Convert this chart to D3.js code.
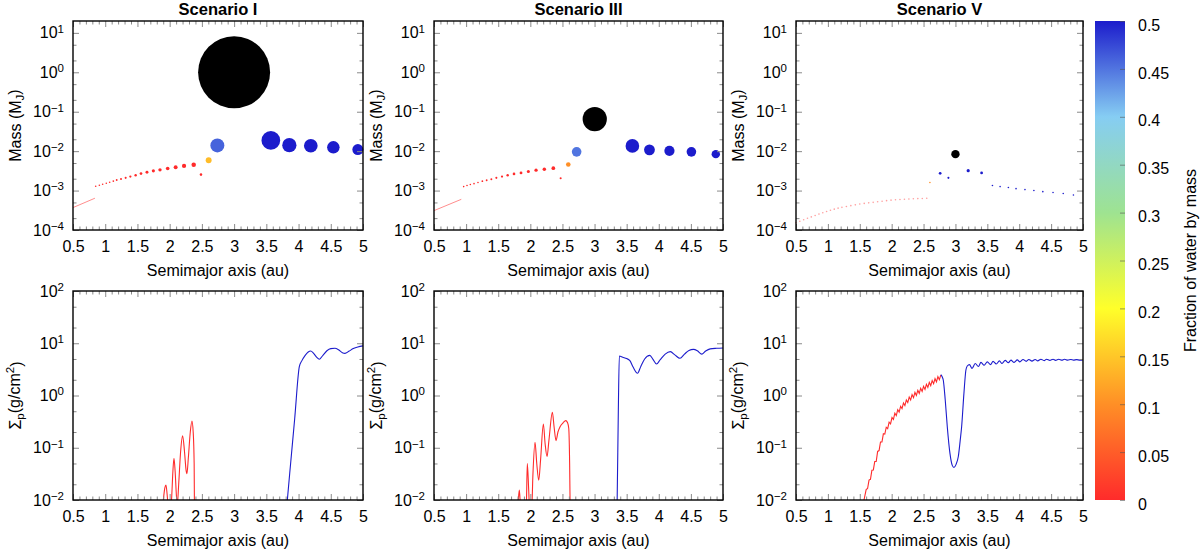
<!DOCTYPE html>
<html>
<head>
<meta charset="utf-8">
<script src="https://cdn.jsdelivr.net/npm/d3@7"></script>
<style>
  body { margin: 0; background: #fff; }
  svg text { font-family: "Liberation Sans", Arial, Helvetica, sans-serif; fill: #000; }
</style>
</head>
<body>
<svg id="chart" width="1200" height="553"></svg>
<script>
// ---------------- data ----------------
const scenarioNames = ["Scenario I", "Scenario III", "Scenario V"];
const xTickValues = [0.5, 1, 1.5, 2, 2.5, 3, 3.5, 4, 4.5, 5];
const massTickValues = [1e-4, 1e-3, 1e-2, 1e-1, 1, 10];
const sigmaTickValues = [1e-2, 1e-1, 1, 10, 100];
const waterTickValues = [0, 0.05, 0.1, 0.15, 0.2, 0.25, 0.3, 0.35, 0.4, 0.45, 0.5];

// palette of the colour bar (water mass fraction -> colour)
const paletteStops = [0, 0.1, 0.2, 0.3, 0.4, 0.5];
const paletteColors = ["#ff2b2b", "#ff8f26", "#ffff2a", "#9ee391", "#86cdf3", "#1c1ccc"];

// Scenario I : semimajor axis (au), mass (M_J), water fraction (null = giant core)
const s1Axis = [0.852, 0.909, 0.960, 1.017, 1.069, 1.126, 1.178, 1.245, 1.317, 1.390, 1.472, 1.555, 1.648, 1.747,
  1.850, 1.969, 2.093, 2.223, 2.373, 2.486, 2.605, 2.740, 3.000, 3.570, 3.857, 4.190, 4.540, 4.920];
const s1Mass = [1.29e-3, 1.36e-3, 1.45e-3, 1.54e-3, 1.63e-3, 1.74e-3, 1.85e-3, 1.96e-3, 2.10e-3, 2.27e-3, 2.45e-3,
  2.70e-3, 2.93e-3, 3.16e-3, 3.35e-3, 3.63e-3, 3.90e-3, 4.23e-3, 4.50e-3, 2.54e-3, 5.9e-3, 1.4e-2, 1.0,
  1.87e-2, 1.42e-2, 1.37e-2, 1.25e-2, 1.10e-2];
const s1Water = [0, 0, 0, 0, 0, 0, 0, 0, 0, 0, 0, 0, 0, 0, 0, 0, 0, 0, 0, 0, 0.14, 0.46, null, 0.5, 0.5, 0.5, 0.5, 0.5];
const s1Trail = [[0.5, 3.7e-4], [0.84, 6.4e-4]];

// Scenario III
const s3Axis = [0.962, 1.014, 1.066, 1.123, 1.185, 1.253, 1.320, 1.393, 1.471, 1.559, 1.647, 1.746, 1.855, 1.969,
  2.089, 2.218, 2.358, 2.472, 2.591, 2.721, 3.003, 3.589, 3.855, 4.166, 4.508, 4.888];
const s3Mass = [1.26e-3, 1.34e-3, 1.42e-3, 1.50e-3, 1.60e-3, 1.73e-3, 1.83e-3, 1.94e-3, 2.10e-3, 2.26e-3, 2.45e-3,
  2.65e-3, 2.81e-3, 3.04e-3, 3.29e-3, 3.48e-3, 3.69e-3, 2.06e-3, 4.58e-3, 9.6e-3, 6.5e-2,
  1.36e-2, 1.08e-2, 1.02e-2, 9.6e-3, 8.4e-3];
const s3Water = [0, 0, 0, 0, 0, 0, 0, 0, 0, 0, 0, 0, 0, 0, 0, 0, 0, 0, 0.1, 0.45, null, 0.5, 0.5, 0.5, 0.5, 0.5];
const s3Trail = [[0.5, 3.1e-4], [0.925, 6.0e-4]];

// Scenario V
const s5Axis = [0.50, 0.56, 0.62, 0.68, 0.74, 0.80, 0.86, 0.92, 0.98, 1.04, 1.10, 1.16, 1.22, 1.29, 1.36, 1.43,
  1.50, 1.57, 1.64, 1.71, 1.78, 1.85, 1.92, 1.99, 2.06, 2.13, 2.20, 2.27, 2.34, 2.41, 2.48, 2.55,
  2.60, 2.76, 2.89, 3.00, 3.20, 3.41, 3.58, 3.70, 3.83, 3.95, 4.09, 4.23, 4.37, 4.53, 4.69, 4.85];
const s5Mass = [1.53e-4, 1.67e-4, 1.82e-4, 1.98e-4, 2.15e-4, 2.33e-4, 2.53e-4, 2.75e-4, 2.95e-4, 3.17e-4, 3.38e-4,
  3.58e-4, 3.75e-4, 3.94e-4, 4.14e-4, 4.35e-4, 4.55e-4, 4.73e-4, 4.88e-4, 5.03e-4, 5.19e-4, 5.37e-4, 5.55e-4,
  5.71e-4, 5.83e-4, 5.94e-4, 6.03e-4, 6.11e-4, 6.19e-4, 6.26e-4, 6.31e-4, 6.36e-4,
  1.6e-3, 2.75e-3, 2.1e-3, 8.4e-3, 3.2e-3, 2.8e-3, 1.34e-3, 1.26e-3, 1.2e-3, 1.12e-3, 1.06e-3, 1.0e-3,
  9.4e-4, 8.9e-4, 8.4e-4, 7.7e-4];
const s5Water = [0, 0, 0, 0, 0, 0, 0, 0, 0, 0, 0, 0, 0, 0, 0, 0, 0, 0, 0, 0, 0, 0, 0, 0, 0, 0, 0, 0, 0, 0, 0, 0,
  0.1, 0.5, 0.5, null, 0.5, 0.5, 0.5, 0.5, 0.5, 0.5, 0.5, 0.5, 0.5, 0.5, 0.5, 0.5];

// planetesimal surface density, [a (au), Sigma_p (g/cm^2)]
const s1SigmaDry = [[1.885, 0.006], [1.902, 0.01], [1.925, 0.017], [1.943, 0.0194], [1.96, 0.013], [1.979, 0.007],
  [2.005, 0.005], [2.031, 0.011], [2.05, 0.035], [2.067, 0.063], [2.085, 0.035], [2.105, 0.012], [2.118, 0.008],
  [2.14, 0.02], [2.17, 0.085], [2.201, 0.17], [2.23, 0.085], [2.255, 0.037], [2.268, 0.032], [2.29, 0.065],
  [2.32, 0.2], [2.346, 0.325], [2.365, 0.2], [2.38, 0.05], [2.386, 0.004]];
const s1SigmaWet = [[3.80, 0.004], [3.826, 0.01], [3.88, 0.055], [3.94, 0.36], [4.012, 3.56], [4.05, 4.6],
  [4.10, 5.8], [4.15, 6.8], [4.188, 7.1], [4.23, 6.5], [4.28, 5.4], [4.322, 4.93], [4.37, 5.7], [4.44, 7.2],
  [4.50, 7.9], [4.565, 8.0], [4.62, 7.5], [4.68, 6.6], [4.72, 6.4], [4.78, 7.0], [4.85, 7.9], [4.92, 8.5], [5.0, 8.9]];

const s3SigmaDry = [[1.80, 0.006], [1.813, 0.01], [1.829, 0.0155], [1.845, 0.008], [1.86, 0.005], [1.93, 0.005],
  [1.94, 0.01], [1.953, 0.05], [1.975, 0.015], [1.99, 0.006], [2.02, 0.006], [2.04, 0.03], [2.073, 0.127],
  [2.10, 0.05], [2.131, 0.024], [2.16, 0.06], [2.203, 0.285], [2.23, 0.12], [2.26, 0.068], [2.29, 0.14],
  [2.343, 0.476], [2.37, 0.25], [2.40, 0.137], [2.43, 0.2], [2.463, 0.253], [2.51, 0.3], [2.551, 0.33],
  [2.58, 0.3], [2.598, 0.236], [2.612, 0.05], [2.622, 0.004]];
const s3SigmaWet = [[3.345, 0.004], [3.352, 0.01], [3.37, 0.5], [3.386, 5.7], [3.438, 5.4], [3.50, 5.1],
  [3.55, 4.64], [3.60, 3.5], [3.669, 2.66], [3.72, 3.6], [3.78, 5.0], [3.86, 5.87], [3.91, 4.9], [3.964, 4.0],
  [4.02, 4.8], [4.10, 6.2], [4.18, 6.9], [4.25, 6.0], [4.33, 5.15], [4.40, 6.2], [4.47, 7.3], [4.54, 7.65],
  [4.60, 7.2], [4.67, 6.2], [4.73, 7.1], [4.80, 7.8], [4.90, 8.0], [5.0, 8.1]];

const s5SigmaDry = [[1.566, 0.010], [1.600, 0.0158], [1.6225, 0.0166], [1.645, 0.0241], [1.6675, 0.0249],
  [1.690, 0.0371], [1.7125, 0.0376], [1.735, 0.0545], [1.7575, 0.0546], [1.780, 0.085], [1.8025, 0.0883],
  [1.825, 0.129], [1.8475, 0.129], [1.870, 0.185], [1.8925, 0.182], [1.915, 0.247], [1.9375, 0.232],
  [1.960, 0.308], [1.9825, 0.287], [2.005, 0.379], [2.0275, 0.349], [2.050, 0.458], [2.0725, 0.414],
  [2.095, 0.534], [2.1175, 0.482], [2.140, 0.621], [2.1625, 0.560], [2.185, 0.719], [2.2075, 0.642],
  [2.230, 0.823], [2.2525, 0.733], [2.275, 0.932], [2.2975, 0.824], [2.320, 1.04], [2.3425, 0.91],
  [2.365, 1.145], [2.3875, 1.0], [2.410, 1.26], [2.4325, 1.10], [2.455, 1.375], [2.4775, 1.20], [2.500, 1.50],
  [2.5225, 1.31], [2.545, 1.64], [2.5675, 1.43], [2.590, 1.78], [2.6125, 1.55], [2.635, 1.93], [2.6575, 1.68],
  [2.680, 2.10], [2.7025, 1.83], [2.725, 2.30], [2.7475, 2.01], [2.770, 2.45]];
const s5SigmaWet = [[2.77, 2.5], [2.79, 2.3], [2.809, 1.98], [2.84, 0.82], [2.872, 0.253], [2.914, 0.078],
  [2.95, 0.046], [2.977, 0.042], [3.01, 0.048], [3.045, 0.068], [3.075, 0.14], [3.097, 0.253], [3.133, 1.1],
  [3.164, 3.08], [3.185, 3.67], [3.22, 3.9], [3.26, 3.3], [3.31, 4.1], [3.36, 3.6], [3.40, 4.3], [3.45, 3.8],
  [3.50, 4.4], [3.55, 3.9], [3.59, 4.5], [3.64, 4.0], [3.69, 4.6], [3.73, 4.1], [3.78, 4.7], [3.83, 4.25],
  [3.87, 4.75], [3.92, 4.3], [3.97, 4.8], [4.01, 4.4], [4.06, 4.9], [4.11, 4.5], [4.15, 4.9], [4.20, 4.55],
  [4.25, 4.9], [4.29, 4.6], [4.34, 4.95], [4.39, 4.65], [4.43, 4.95], [4.48, 4.7], [4.53, 4.95], [4.57, 4.7],
  [4.62, 4.95], [4.67, 4.75], [4.71, 4.95], [4.76, 4.75], [4.81, 4.9], [4.85, 4.75], [4.90, 4.85], [4.95, 4.75],
  [5.0, 4.8]];

const bodies = [
  { axis: s1Axis, mass: s1Mass, water: s1Water, trail: s1Trail },
  { axis: s3Axis, mass: s3Mass, water: s3Water, trail: s3Trail },
  { axis: s5Axis, mass: s5Mass, water: s5Water, trail: null }
];
const sigmas = [
  { dry: s1SigmaDry, wet: s1SigmaWet, saw: false },
  { dry: s3SigmaDry, wet: s3SigmaWet, saw: false },
  { dry: s5SigmaDry, wet: s5SigmaWet, saw: true }
];

// ---------------- layout ----------------
const colLeft = [73, 434, 796], colRight = [363, 723, 1083];
const rowTop = [21, 291], rowBottom = [230, 500];
const font = 16;
const tickGrey = "#8a8a8a";

const svg = d3.select("#chart");
const color = d3.scaleLinear().domain(paletteStops).range(paletteColors).clamp(true);
const rScale = d3.scaleLinear().domain([0, 0.02, 0.06, 1]).range([0, 10, 12, 36]).clamp(true);

const xMinor = d3.range(5, 51).filter(i => i % 5 !== 0).map(i => i / 10);
function logMinor(dom) {
  const out = [];
  for (let e = -5; e <= 2; e++) [2, 5].forEach(m => {
    const v = m * Math.pow(10, e);
    if (v > dom[0] && v < dom[1]) out.push(v);
  });
  return out;
}

function powLabel(sel) {
  sel.each(function (v) {
    const t = d3.select(this).text("");
    const e = Math.round(Math.log10(v));
    t.append("tspan").text("10");
    t.append("tspan").attr("dy", "-0.5em").attr("font-size", "11.5px")
      .text(e < 0 ? "\u2212" + (-e) : String(e));
  });
}

function styleAxis(g) {
  g.select(".domain").remove();
  g.selectAll(".tick line").attr("stroke", tickGrey);
  g.selectAll("text").attr("font-size", font + "px").attr("font-family", null);
}

function drawFrame(g, x, y, yMajor, id) {
  const [x0, x1] = x.range();
  const [yb, yt] = y.range();
  const yMin = logMinor(y.domain());
  // bottom
  g.append("g").attr("transform", `translate(0,${yb})`)
    .call(d3.axisBottom(x).tickValues(xTickValues).tickSize(-6).tickPadding(11).tickFormat(d => String(d)))
    .call(styleAxis);
  g.append("g").attr("transform", `translate(0,${yb})`)
    .call(d3.axisBottom(x).tickValues(xMinor).tickSize(-3.5).tickFormat(""))
    .call(styleAxis);
  // top
  g.append("g").attr("transform", `translate(0,${yt})`)
    .call(d3.axisTop(x).tickValues(xTickValues).tickSize(-6).tickFormat(""))
    .call(styleAxis);
  g.append("g").attr("transform", `translate(0,${yt})`)
    .call(d3.axisTop(x).tickValues(xMinor).tickSize(-3.5).tickFormat(""))
    .call(styleAxis);
  // left
  g.append("g").attr("transform", `translate(${x0},0)`)
    .call(d3.axisLeft(y).tickValues(yMajor).tickSize(-6).tickPadding(9).tickFormat(d => d))
    .call(styleAxis)
    .call(a => a.selectAll(".tick text").call(powLabel));
  g.append("g").attr("transform", `translate(${x0},0)`)
    .call(d3.axisLeft(y).tickValues(yMin).tickSize(-3.5).tickFormat(""))
    .call(styleAxis);
  // right
  g.append("g").attr("transform", `translate(${x1},0)`)
    .call(d3.axisRight(y).tickValues(yMajor).tickSize(-6).tickFormat(""))
    .call(styleAxis);
  g.append("g").attr("transform", `translate(${x1},0)`)
    .call(d3.axisRight(y).tickValues(yMin).tickSize(-3.5).tickFormat(""))
    .call(styleAxis);
  g.append("rect").attr("x", x0).attr("y", yt).attr("width", x1 - x0).attr("height", yb - yt)
    .attr("fill", "none").attr("stroke", "#000").attr("stroke-width", 1.4);
  // x label
  g.append("text").attr("x", (x0 + x1) / 2).attr("y", yb + 46).attr("text-anchor", "middle")
    .attr("font-size", font + "px").text("Semimajor axis (au)");
}

scenarioNames.forEach((name, i) => {
  const x = d3.scaleLinear().domain([0.5, 5]).range([colLeft[i], colRight[i]]);
  const yM = d3.scaleLog().domain([1e-4, 20]).range([rowBottom[0], rowTop[0]]);
  const yS = d3.scaleLog().domain([1e-2, 1e2]).range([rowBottom[1], rowTop[1]]);

  // ---- top: masses ----
  const gt = svg.append("g");
  const b = bodies[i];
  if (b.trail) {
    gt.append("path").datum(b.trail)
      .attr("d", d3.line().x(d => x(d[0])).y(d => yM(d[1])))
      .attr("fill", "none").attr("stroke", color(0)).attr("stroke-width", 0.9).attr("stroke-opacity", 0.6);
  }
  const pts = b.axis.map((a, k) => ({ a, m: b.mass[k], w: b.water[k] }));
  gt.selectAll("circle.body").data(pts).join("circle")
    .attr("class", "body")
    .attr("cx", d => x(d.a)).attr("cy", d => yM(d.m))
    .attr("r", d => Math.max(0.8, rScale(d.m)))
    .attr("fill", d => d.w === null ? "#000" : color(d.w))
    .attr("fill-opacity", d => rScale(d.m) < 0.35 ? 0.45 : 1);
  drawFrame(gt, x, yM, massTickValues, "m" + i);
  gt.append("text").attr("x", (colLeft[i] + colRight[i]) / 2).attr("y", 15).attr("text-anchor", "middle")
    .attr("font-size", "16.5px").attr("font-weight", "bold").text(name);
  const ml = gt.append("text")
    .attr("transform", `translate(${colLeft[i] - 52},${(rowTop[0] + rowBottom[0]) / 2}) rotate(-90)`)
    .attr("text-anchor", "middle").attr("font-size", font + "px");
  ml.append("tspan").text("Mass (M");
  ml.append("tspan").attr("dy", "0.3em").attr("font-size", "11.5px").text("J");
  ml.append("tspan").attr("dy", "-0.3em").text(")");

  // ---- bottom: surface density ----
  const gb = svg.append("g");
  const clipId = "clip" + i;
  gb.append("clipPath").attr("id", clipId).append("rect")
    .attr("x", colLeft[i]).attr("y", rowTop[1])
    .attr("width", colRight[i] - colLeft[i]).attr("height", rowBottom[1] - rowTop[1]);
  const s = sigmas[i];
  const smooth = d3.line().x(d => x(d[0])).y(d => yS(d[1])).curve(d3.curveMonotoneX);
  const sharp = d3.line().x(d => x(d[0])).y(d => yS(d[1]));
  const lines = gb.append("g").attr("clip-path", `url(#${clipId})`);
  lines.append("path").datum(s.dry).attr("d", s.saw ? sharp : smooth)
    .attr("fill", "none").attr("stroke", color(0)).attr("stroke-width", 1.1);
  lines.append("path").datum(s.wet).attr("d", smooth)
    .attr("fill", "none").attr("stroke", color(0.5)).attr("stroke-width", 1.1);
  drawFrame(gb, x, yS, sigmaTickValues, "s" + i);
  const sl = gb.append("text")
    .attr("transform", `translate(${colLeft[i] - 52},${(rowTop[1] + rowBottom[1]) / 2}) rotate(-90)`)
    .attr("text-anchor", "middle").attr("font-size", font + "px");
  sl.append("tspan").text("\u03a3");
  sl.append("tspan").attr("dy", "0.3em").attr("font-size", "11.5px").text("p");
  sl.append("tspan").attr("dy", "-0.3em").text("(g/cm");
  sl.append("tspan").attr("dy", "-0.5em").attr("font-size", "11.5px").text("2");
  sl.append("tspan").attr("dy", "0.5em").text(")");
});

// ---------------- colour bar ----------------
const cbX = 1095, cbW = 30;
const wScale = d3.scaleLinear().domain([0, 0.5]).range([rowBottom[1], rowTop[0]]);
const grad = svg.append("defs").append("linearGradient").attr("id", "cbgrad")
  .attr("x1", 0).attr("y1", 1).attr("x2", 0).attr("y2", 0);
grad.selectAll("stop").data(paletteStops).join("stop")
  .attr("offset", d => d / 0.5).attr("stop-color", d => color(d));
svg.append("rect").attr("x", cbX).attr("y", rowTop[0]).attr("width", cbW)
  .attr("height", rowBottom[1] - rowTop[0]).attr("fill", "url(#cbgrad)");
svg.append("g").attr("transform", `translate(${cbX + cbW},0)`)
  .call(d3.axisLeft(wScale).tickValues(waterTickValues).tickSize(5).tickFormat(""))
  .call(g => g.select(".domain").remove())
  .call(g => g.selectAll(".tick line").attr("stroke", "#555").attr("stroke-opacity", 0.6));
svg.append("g").attr("transform", `translate(${cbX + cbW},0)`)
  .call(d3.axisRight(wScale).tickValues(waterTickValues).tickSize(0).tickPadding(13)
    .tickFormat(d => String(+d.toFixed(2))))
  .call(g => g.select(".domain").remove())
  .call(g => g.selectAll("text").attr("font-size", font + "px").attr("font-family", null).attr("y", 4));
svg.append("text").attr("transform", `translate(1196,${(rowTop[0] + rowBottom[1]) / 2}) rotate(-90)`)
  .attr("text-anchor", "middle").attr("font-size", font + "px").text("Fraction of water by mass");
</script>
</body>
</html>
